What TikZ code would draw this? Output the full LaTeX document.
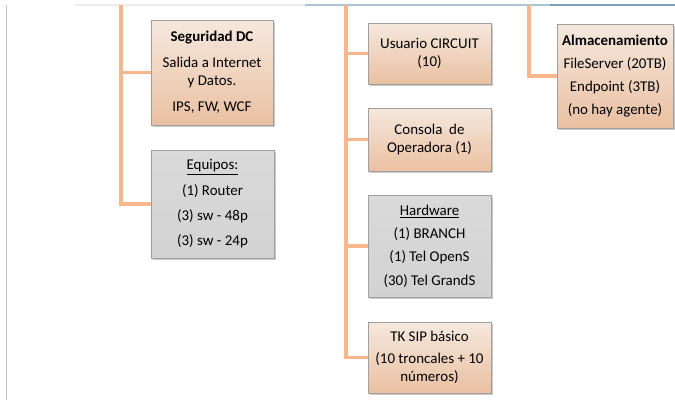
\documentclass[tikz,border=0pt]{standalone}
\usepackage{fontspec}
\setmainfont{Carlito}
\usetikzlibrary{shadows}
\definecolor{conn}{HTML}{F7B68C}
\definecolor{otop}{HTML}{F5E8DE}
\definecolor{obot}{HTML}{EAC0A1}
\definecolor{gtop}{HTML}{DADADA}
\definecolor{gbot}{HTML}{D2D2D2}
\definecolor{bord}{HTML}{A0A0A0}
\definecolor{edge}{HTML}{BFBFBF}
\definecolor{topl}{HTML}{EDEDED}
\definecolor{topb}{HTML}{A9C4D6}
\definecolor{topd}{HTML}{7C9FB8}
\tikzset{
  box/.style={draw=bord, line width=0.6pt, align=center, inner sep=0pt,
    font=\fontsize{11.2}{13.5}\selectfont,
    drop shadow={shadow xshift=1.2pt, shadow yshift=-1.2pt, opacity=0.35, fill=black!60}},
  obox/.style={box, top color=otop, bottom color=obot},
  gbox/.style={box, top color=gtop, bottom color=gbot},
  link/.style={draw=conn, line width=2.6pt},
}
\begin{document}
\begin{tikzpicture}[x={(0.75pt,0)}, y={(0,-0.75pt)}]
\useasboundingbox (0,0) rectangle (675,400);
\fill[white] (0,0) rectangle (675,400);
% frame lines
\coordinate (e1) at (6.5,5);
\coordinate (e2) at (6.5,400);
\draw[edge, line width=1.2pt] (e1) -- (e2);
\coordinate (l1) at (75,5);
\coordinate (l2) at (305,5);
\coordinate (l3) at (550,5);
\coordinate (l4) at (675,5);
\draw[topl, line width=0.9pt] (l1) -- (l2);
\draw[topb, line width=0.9pt] (l2) -- (l3);
\draw[topd, line width=0.9pt] (l3) -- (l4);
% connectors
\coordinate (t1) at (121,5);
\coordinate (t2) at (346,5);
\coordinate (t3) at (529,5);
% boxes
\node[obox, minimum width=91.5pt, minimum height=78.75pt] (seg) at (212,72.5)
  {\textbf{Seguridad DC}\\[6pt] Salida a Internet\\ y Datos.\\[6pt] IPS, FW, WCF};
\node[gbox, minimum width=92.25pt, minimum height=81pt] (equ) at (212.5,204)
  {\underline{Equipos:}\\[5.5pt] (1) Router\\[5.5pt] (3) sw - 48p\\[5.5pt] (3) sw - 24p};
\node[obox, minimum width=92.25pt, minimum height=45.75pt] (usu) at (429.5,53.5)
  {Usuario CIRCUIT\\ (10)};
\node[obox, minimum width=92.25pt, minimum height=47.25pt] (con) at (429.5,139.5)
  {Consola\ \ de\\ Operadora (1)};
\node[gbox, minimum width=92.25pt, minimum height=76.5pt] (hw) at (429.5,246)
  {\underline{Hardware}\\[4pt] (1) BRANCH\\[4pt] (1) Tel OpenS\\[4pt] (30) Tel GrandS};
\node[obox, minimum width=92.25pt, minimum height=53.25pt] (tk) at (429.5,357.5)
  {TK SIP básico\\[3pt] (10 troncales + 10\\ números)};
\node[obox, minimum width=87pt, minimum height=78pt] (alm) at (615,76)
  {\textbf{Almacenamiento}\\[3.75pt] FileServer (20TB)\\[3.75pt] Endpoint (3TB)\\[3.75pt] (no hay agente)};
\draw[link] (t1) |- (seg.west);
\draw[link] (t1) |- (equ.west);
\draw[link] (t2) |- (usu.west);
\draw[link] (t2) |- (con.west);
\draw[link] (t2) |- (hw.west);
\draw[link] (t2) |- (tk.west);
\draw[link] (t3) |- (alm.west);
\end{tikzpicture}
\end{document}
